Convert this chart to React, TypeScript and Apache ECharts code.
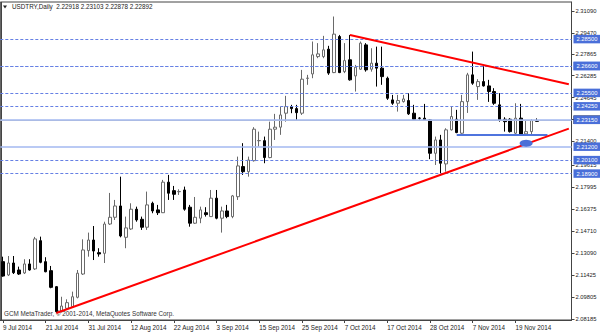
import React, { useEffect, useRef } from "react";
import * as echarts from "echarts";

const dates = [
  "9 Jul 2014","10 Jul 2014","11 Jul 2014","14 Jul 2014","15 Jul 2014","16 Jul 2014","17 Jul 2014","18 Jul 2014",
  "21 Jul 2014","22 Jul 2014","23 Jul 2014","24 Jul 2014","25 Jul 2014","28 Jul 2014","29 Jul 2014","30 Jul 2014",
  "31 Jul 2014","1 Aug 2014","4 Aug 2014","5 Aug 2014","6 Aug 2014","7 Aug 2014","8 Aug 2014","11 Aug 2014",
  "12 Aug 2014","13 Aug 2014","14 Aug 2014","15 Aug 2014","18 Aug 2014","19 Aug 2014","20 Aug 2014","21 Aug 2014",
  "22 Aug 2014","25 Aug 2014","26 Aug 2014","27 Aug 2014","28 Aug 2014","29 Aug 2014","1 Sep 2014","2 Sep 2014",
  "3 Sep 2014","4 Sep 2014","5 Sep 2014","8 Sep 2014","9 Sep 2014","10 Sep 2014","11 Sep 2014","12 Sep 2014",
  "15 Sep 2014","16 Sep 2014","17 Sep 2014","18 Sep 2014","19 Sep 2014","22 Sep 2014","23 Sep 2014","24 Sep 2014",
  "25 Sep 2014","26 Sep 2014","29 Sep 2014","30 Sep 2014","1 Oct 2014","2 Oct 2014","3 Oct 2014","6 Oct 2014",
  "7 Oct 2014","8 Oct 2014","9 Oct 2014","10 Oct 2014","13 Oct 2014","14 Oct 2014","15 Oct 2014","16 Oct 2014",
  "17 Oct 2014","20 Oct 2014","21 Oct 2014","22 Oct 2014","23 Oct 2014","24 Oct 2014","26 Oct 2014","27 Oct 2014",
  "28 Oct 2014","29 Oct 2014","30 Oct 2014","31 Oct 2014","3 Nov 2014","4 Nov 2014","5 Nov 2014","6 Nov 2014",
  "7 Nov 2014","10 Nov 2014","11 Nov 2014","12 Nov 2014","13 Nov 2014","14 Nov 2014","17 Nov 2014","18 Nov 2014",
  "19 Nov 2014","20 Nov 2014","21 Nov 2014","24 Nov 2014","25 Nov 2014",
  "26 Nov 2014","27 Nov 2014","28 Nov 2014","1 Dec 2014","2 Dec 2014","3 Dec 2014"
];

const opens = [
  2.1245,2.1146,2.1235,2.1183,2.1161,2.1228,2.1191,2.1401,2.1245,2.1178,
  2.1059,2.0873,2.0898,2.0910,2.0980,2.1153,2.1327,2.1406,2.1312,2.1307,
  2.1525,2.1575,2.1659,2.1426,2.1488,2.1635,2.1560,2.1501,2.1679,2.1630,
  2.1609,2.1836,2.1773,2.1765,2.1778,2.1650,2.1531,2.1568,2.1609,2.1580,
  2.1717,2.1568,2.1622,2.1580,2.1728,2.1952,2.1914,2.1996,2.2144,2.2145,
  2.2019,2.2230,2.2245,2.2349,2.2398,2.2383,2.2349,2.2608,2.2641,2.2770,
  2.2770,2.2825,2.2651,2.2919,2.2658,2.2746,2.2626,2.2676,2.2857,2.2676,
  2.2721,2.2684,2.2609,2.2448,2.2423,2.2435,2.2443,2.2349,2.2313,2.2312,
  2.2299,2.2051,2.2150,2.1972,2.2225,2.2304,2.2200,2.2435,2.2634,2.2547,
  2.2584,2.2552,2.2510,2.2411,2.2304,2.2304,2.2200,2.2312,2.2195,2.2212,
  2.22918
];
const highs = [
  2.1282,2.1287,2.1287,2.1208,2.1263,2.1263,2.1429,2.1431,2.1278,2.1213,
  2.1064,2.0984,2.0965,2.1022,2.1183,2.1411,2.1461,2.1510,2.1345,2.1542,
  2.1756,2.1704,2.1877,2.1580,2.1679,2.1654,2.1580,2.1766,2.1691,2.1667,
  2.1853,2.1890,2.1808,2.1783,2.1803,2.1667,2.1726,2.1654,2.1650,2.1778,
  2.1778,2.1654,2.1667,2.1741,2.2026,2.2126,2.2026,2.2245,2.2212,2.2175,
  2.2286,2.2344,2.2398,2.2478,2.2411,2.2411,2.2671,2.2634,2.2882,2.2870,
  2.2924,2.2850,2.3068,2.2931,2.2870,2.2931,2.2708,2.2882,2.2870,2.2832,
  2.2844,2.2844,2.2621,2.2485,2.2485,2.2485,2.2498,2.2411,2.2319,2.2418,
  2.2304,2.2175,2.2188,2.2237,2.2398,2.2374,2.2485,2.2649,2.2807,2.2602,
  2.2708,2.2597,2.2535,2.2498,2.2319,2.2312,2.2423,2.2418,2.2299,2.2304,
  2.23103
];
const lows = [
  2.1133,2.1138,2.1153,2.1146,2.1153,2.1178,2.1183,2.1233,2.1166,2.1047,
  2.0863,2.0868,2.0891,2.0905,2.0972,2.1146,2.1282,2.1257,2.1282,2.1235,
  2.1518,2.1555,2.1426,2.1345,2.1481,2.1542,2.1481,2.1481,2.1605,2.1592,
  2.1607,2.1704,2.1704,2.1741,2.1624,2.1505,2.1525,2.1531,2.1580,2.1578,
  2.1560,2.1461,2.1568,2.1568,2.1704,2.1890,2.1877,2.1989,2.2100,2.1977,
  2.2014,2.2150,2.2188,2.2286,2.2349,2.2299,2.2336,2.2560,2.2609,2.2758,
  2.2758,2.2634,2.2647,2.2647,2.2647,2.2591,2.2510,2.2671,2.2658,2.2658,
  2.2547,2.2560,2.2448,2.2411,2.2361,2.2428,2.2336,2.2299,2.2299,2.2294,
  2.2007,2.1964,2.1903,2.1914,2.2220,2.2200,2.2195,2.2351,2.2560,2.2448,
  2.2547,2.2433,2.2411,2.2286,2.2212,2.2205,2.2188,2.2188,2.2180,2.2180,
  2.22878
];
const closes = [
  2.1138,2.1235,2.1163,2.1153,2.1228,2.1183,2.1414,2.1240,2.1170,2.1054,
  2.0873,2.0915,2.0940,2.0984,2.1159,2.1332,2.1406,2.1324,2.1302,2.1525,
  2.1575,2.1659,2.1436,2.1496,2.1635,2.1555,2.1501,2.1667,2.1622,2.1609,
  2.1836,2.1754,2.1746,2.1767,2.1635,2.1531,2.1575,2.1630,2.1595,2.1717,
  2.1568,2.1622,2.1580,2.1734,2.1957,2.1914,2.2001,2.2230,2.2146,2.2019,
  2.2230,2.2245,2.2336,2.2398,2.2383,2.2353,2.2602,2.2610,2.2783,2.2790,
  2.2820,2.2647,2.2937,2.2651,2.2740,2.2597,2.2691,2.2870,2.2671,2.2721,
  2.2684,2.2621,2.2460,2.2423,2.2443,2.2455,2.2344,2.2304,2.2311,2.2299,
  2.2051,2.2150,2.1977,2.2225,2.2324,2.2205,2.2435,2.2634,2.2572,2.2584,
  2.2552,2.2510,2.2423,2.2299,2.2286,2.2212,2.2312,2.2195,2.2212,2.2294,
  2.22892
];

const xTickLabels = [
  "9 Jul 2014","21 Jul 2014","31 Jul 2014","12 Aug 2014","22 Aug 2014","3 Sep 2014","15 Sep 2014",
  "25 Sep 2014","7 Oct 2014","17 Oct 2014","28 Oct 2014","7 Nov 2014","19 Nov 2014"
];
const yTickValues = [
  2.08185,2.09805,2.11425,2.13090,2.14710,2.16375,2.17995,2.19615,2.21400,2.23025,
  2.24645,2.26285,2.27865,2.29470,2.31090
];
const dashedLevels = [2.285, 2.275, 2.266, 2.255, 2.2425, 2.201, 2.189];
const solidLevels = [2.2315, 2.212];
const currentPrice = 2.22892;
const supportLevel = 2.2185;
const supportFrom = 85;
const supportTo = 102;
const lowerTrend = [[10, 2.0863], [106, 2.2234]];
const upperTrend = [[65, 2.2931], [106, 2.2564]];
const markerPoint = [98, 2.2126];
const titleText = "USDTRY,Daily  2.22918 2.23103 2.22878 2.22892";
const footerText = "GCM MetaTrader, \u00a9 2001-2014, MetaQuotes Software Corp.";

const FONT = '"Liberation Sans", Arial, sans-serif';
const BOX = "#4a6fd9";

export default function App() {
  const ref = useRef<HTMLDivElement>(null);
  useEffect(() => {
    if (!ref.current) return;
    document.body.style.margin = "0";
    const chart = echarts.init(ref.current, null, { renderer: "svg" });
    const candles = opens.map((o, i) => [o, closes[i], lows[i], highs[i]]);
    const showTick = (_i: number, v: string) => xTickLabels.includes(v);
    const boxLabel = (bg: string) => ({
      show: true,
      position: "end",
      distance: 2,
      formatter: "{b}",
      color: "#fff",
      backgroundColor: bg,
      padding: [1.5, 3, 1, 3],
      fontSize: 5.8,
      fontFamily: FONT,
    });
    const markData: any[] = [];
    markData.push({
      name: currentPrice.toFixed(5),
      yAxis: currentPrice,
      lineStyle: { color: "#c4c4c4", width: 1, type: "solid" },
      label: boxLabel("#000"),
    });
    dashedLevels.forEach((v) =>
      markData.push({
        name: v.toFixed(5),
        yAxis: v,
        lineStyle: { color: "#6680e4", width: 1, type: [3, 2] },
        label: boxLabel(BOX),
      })
    );
    solidLevels.forEach((v) =>
      markData.push({
        name: v.toFixed(5),
        yAxis: v,
        lineStyle: { color: "#a3b9f1", width: 1.5, type: "solid" },
        label: boxLabel(BOX),
      })
    );
    markData.push([
      { coord: [supportFrom, supportLevel], lineStyle: { color: "#4f74de", width: 2, type: "solid" }, label: { show: false } },
      { coord: [supportTo, supportLevel] },
    ]);
    [lowerTrend, upperTrend].forEach((t) =>
      markData.push([
        { coord: t[0], lineStyle: { color: "#ff0000", width: 2, type: "solid" }, label: { show: false } },
        { coord: t[1] },
      ])
    );

    chart.setOption({
      animation: false,
      backgroundColor: "#fff",
      textStyle: { fontFamily: FONT },
      grid: {
        left: -1,
        right: 28.5,
        top: 2,
        bottom: 13,
        show: true,
        borderColor: "#444",
        borderWidth: 1,
        backgroundColor: "#fff",
      },
      xAxis: {
        type: "category",
        data: dates,
        boundaryGap: true,
        axisLine: { show: true, lineStyle: { color: "#444" } },
        axisTick: { show: true, alignWithLabel: true, interval: showTick, length: 3, lineStyle: { color: "#444" } },
        axisLabel: {
          interval: showTick,
          align: "left",
          fontSize: 6.3,
          color: "#222",
          margin: 4,
          fontFamily: FONT,
        },
        splitLine: { show: false },
      },
      yAxis: {
        type: "value",
        position: "right",
        min: 2.08111,
        max: 2.31759,
        axisLine: { show: true, onZero: false, lineStyle: { color: "#444" } },
        axisTick: { show: true, customValues: yTickValues, length: 3, lineStyle: { color: "#444" } },
        axisLabel: {
          customValues: yTickValues,
          formatter: (v: number) => v.toFixed(5),
          margin: 4,
          fontSize: 5.8,
          color: "#222",
          fontFamily: FONT,
        },
        splitLine: { show: false },
      },
      series: [
        {
          type: "candlestick",
          data: candles,
          barWidth: 3,
          itemStyle: {
            color: "#ffffff",
            color0: "#000000",
            borderColor: "#6a6a6a",
            borderColor0: "#000000",
            borderWidth: 1,
          },
          markLine: {
            silent: true,
            symbol: ["none", "none"],
            animation: false,
            data: markData,
          },
          markPoint: {
            silent: true,
            animation: false,
            data: [
              {
                coord: markerPoint,
                symbol: "circle",
                symbolSize: [13, 7],
                itemStyle: { color: "#4a6fd8" },
                label: { show: false },
              },
            ],
          },
        },
      ],
      graphic: [
        { type: "line", shape: { x1: 1.5, y1: 2, x2: 1.5, y2: 320 }, style: { stroke: "#444", lineWidth: 1 } },
        {
          type: "polygon",
          shape: { points: [[3, 5.5], [7, 5.5], [5, 8.5]] },
          style: { fill: "#222" },
        },
        {
          type: "text",
          left: 12,
          top: 3.5,
          style: { text: titleText, fontSize: 6.3, fill: "#222", fontFamily: FONT },
        },
        {
          type: "text",
          left: 4,
          top: 310,
          style: { text: footerText, fontSize: 6.3, fill: "#333", fontFamily: FONT },
        },
      ],
    });
    return () => chart.dispose();
  }, []);
  return <div ref={ref} style={{ width: 600, height: 333, position: "fixed", left: 0, top: 0 }} />;
}
